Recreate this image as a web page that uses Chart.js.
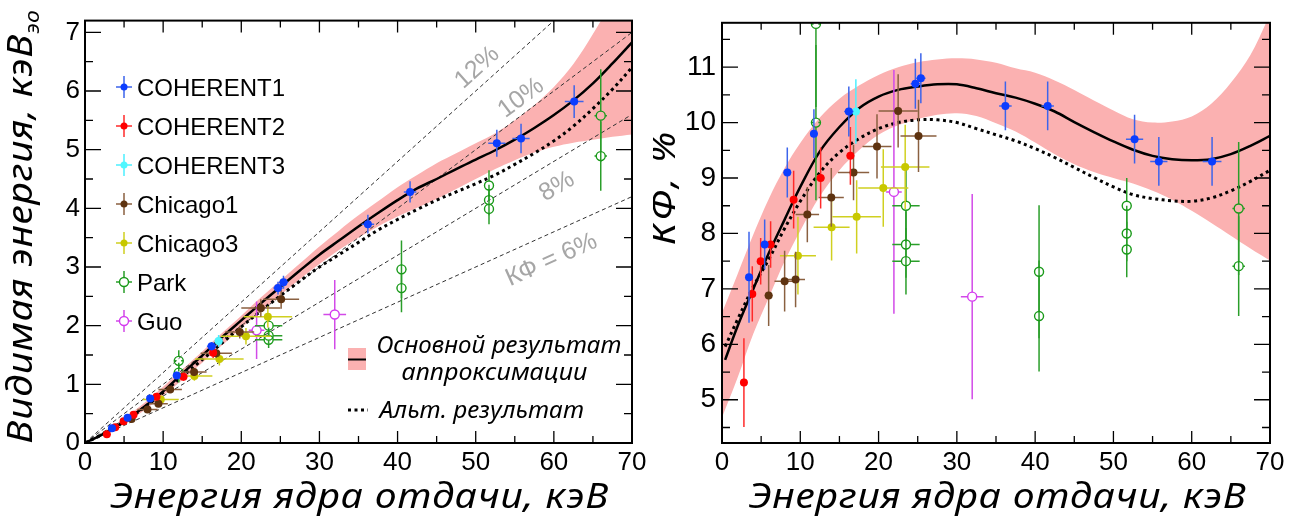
<!DOCTYPE html>
<html>
<head>
<meta charset="utf-8">
<script src="https://cdn.jsdelivr.net/npm/chart.js@4.4.0/dist/chart.umd.min.js"></script>
<style>
  html, body { margin: 0; padding: 0; background: #fff; }
  #wrap { position: relative; width: 1306px; height: 524px; }
  canvas { position: absolute; top: 0; }
  #cLeft { left: 0; }
  #cRight { left: 653px; }
</style>
</head>
<body>
<div id="wrap">
  <canvas id="cLeft" width="653" height="524"></canvas>
  <canvas id="cRight" width="653" height="524"></canvas>
</div>
<script>
const SANS = '"Liberation Sans", Arial, Helvetica, sans-serif';
const ITAL = '"Noto Sans", Roboto, "Open Sans", sans-serif';
const BAND = '#fbb1b1';

// ---- measurements (recoil energy in keV) ----
const sourceNames = ['COHERENT1', 'COHERENT2', 'COHERENT3', 'Chicago1', 'Chicago3', 'Park', 'Guo'];
const sourceColors = ['#0b3dff', '#ff0000', '#4ff7ff', '#5e3310', '#c8c800', '#1a9a1a', '#d43cf0'];
const barColors = ['#3c64eb', '#ff2a2a', '#4cf0ff', '#8a6040', '#d0d020', '#2a9e2a', '#d24ae8'];
const sourceOpen = [false, false, false, false, false, true, true];

const c1E     = [3.45, 5.45, 8.34, 11.74, 16.2, 24.7, 25.4, 36.2, 41.6, 52.7, 55.8, 62.6];
const c1EErr  = [0.3, 0.4, 0.5, 0.5, 0.6, 0.6, 0.6, 0.8, 0.8, 1.1, 1.1, 1.2];
const c1QF    = [7.21, 7.80, 9.10, 9.80, 10.20, 10.70, 10.80, 10.30, 10.30, 9.70, 9.30, 9.30];
const c1QFErr = [0.82, 0.45, 0.45, 0.44, 0.45, 0.45, 0.45, 0.44, 0.44, 0.44, 0.44, 0.44];
const c1Vis   = [0.25, 0.43, 0.76, 1.15, 1.65, 2.64, 2.74, 3.73, 4.28, 5.11, 5.19, 5.82];
const c1VisErr= [0.03, 0.02, 0.04, 0.05, 0.07, 0.11, 0.11, 0.16, 0.18, 0.23, 0.25, 0.28];

const c2E     = [2.8, 3.87, 4.94, 6.21, 9.15, 12.6, 16.4];
const c2EErr  = [0.2, 0.3, 0.3, 0.3, 0.4, 0.5, 0.5];
const c2QF    = [5.31, 6.91, 7.50, 7.80, 8.61, 9.00, 9.40];
const c2QFErr = [0.8, 0.5, 0.42, 0.42, 0.52, 0.55, 0.52];
const c2Vis   = [0.15, 0.27, 0.37, 0.48, 0.79, 1.13, 1.54];
const c2VisErr= [0.02, 0.02, 0.02, 0.03, 0.05, 0.07, 0.09];

const c3E     = [17.1];
const c3EErr  = [0.5];
const c3QF    = [10.2];
const c3QFErr = [0.58];
const c3Vis   = [1.74];
const c3VisErr= [0.10];

const ch1E     = [5.96, 8.0, 9.4, 10.9, 13.96, 16.8, 19.8, 22.5, 25.1];
const ch1EErr  = [0.5, 1.3, 1.2, 1.5, 1.6, 2.0, 1.85, 2.5, 2.3];
const ch1QF    = [6.88, 7.14, 7.17, 8.34, 8.65, 9.10, 9.57, 10.21, 9.76];
const ch1QFErr = [0.55, 0.55, 0.5, 0.5, 0.53, 0.5, 0.58, 0.66, 0.65];
const ch1Vis   = [0.41, 0.57, 0.67, 0.91, 1.21, 1.53, 1.89, 2.30, 2.45];
const ch1VisErr= [0.03, 0.04, 0.05, 0.05, 0.07, 0.08, 0.11, 0.15, 0.16];

const ch3E     = [9.7, 14.0, 17.2, 20.6, 23.4];
const ch3EErr  = [2.3, 2.3, 3.1, 3.2, 3.1];
const ch3QF    = [7.60, 8.11, 8.30, 8.82, 9.20];
const ch3QFErr = [0.7, 0.6, 0.66, 0.7, 0.76];
const ch3Vis   = [0.74, 1.14, 1.43, 1.82, 2.15];
const ch3VisErr= [0.07, 0.08, 0.11, 0.14, 0.18];

const parkE     = [12.0, 12.0, 23.5, 23.5, 23.5, 40.5, 40.5, 51.7, 51.7, 51.7, 66.0, 66.0];
const parkEErr  = [0.3, 0.3, 1.75, 1.75, 1.75, 0.6, 0.6, 0.6, 0.6, 0.6, 0.8, 0.8];
const parkQF    = [11.78, 10.0, 8.50, 7.80, 7.50, 7.31, 6.51, 8.50, 8.00, 7.71, 8.45, 7.41];
const parkQFErr = [1.5, 1.4, 0.65, 0.6, 0.6, 1.2, 1.0, 0.5, 0.5, 0.5, 1.2, 0.9];
const parkVis   = [1.40, 1.20, 2.00, 1.83, 1.76, 2.96, 2.64, 4.39, 4.14, 3.99, 5.58, 4.89];
const parkVisErr= [0.18, 0.17, 0.15, 0.14, 0.14, 0.49, 0.41, 0.26, 0.26, 0.26, 0.79, 0.59];

const guoE     = [21.96, 31.96];
const guoEErr  = [1.0, 1.45];
const guoQF    = [8.75, 6.86];
const guoQFErr = [2.2, 1.85];
const guoVis   = [1.92, 2.19];
const guoVisErr= [0.49, 0.59];

// ---- fit curves ----
const fitE  = [0.4, 2, 4, 6, 8, 10, 12.5, 15, 17.5, 20, 22.5, 25, 27.5, 30, 32.5, 35, 37.5, 40, 42.5, 45, 47.5, 50, 52.5, 55, 57.5, 60, 62.5, 65, 67.5, 70];
const bandE = [0, 2, 4, 6, 8, 10, 12.5, 15, 17.5, 20, 22.5, 25, 27.5, 30, 32.5, 35, 37.5, 40, 42.5, 45, 47.5, 50, 52.5, 55, 57.5, 60, 62.5, 65, 67.5, 70];

const qfFit = [5.72, 6.33, 7.00, 7.65, 8.25, 8.84, 9.48, 9.92, 10.26, 10.47, 10.59, 10.65, 10.69, 10.69, 10.62, 10.53, 10.45, 10.34, 10.20, 10.01, 9.83, 9.66, 9.51, 9.40, 9.34, 9.32, 9.34, 9.43, 9.58, 9.76];
const qfAlt = [5.96, 6.45, 7.04, 7.54, 8.09, 8.58, 9.10, 9.46, 9.71, 9.89, 10.00, 10.05, 10.05, 10.00, 9.89, 9.78, 9.67, 9.53, 9.37, 9.19, 9.01, 8.84, 8.70, 8.63, 8.59, 8.58, 8.64, 8.77, 8.94, 9.14];
const qfUp  = [6.57, 7.27, 7.98, 8.63, 9.18, 9.63, 10.09, 10.43, 10.67, 10.86, 11.00, 11.09, 11.14, 11.16, 11.14, 11.08, 10.98, 10.90, 10.76, 10.59, 10.40, 10.22, 10.06, 10.00, 10.02, 10.11, 10.34, 10.72, 11.22, 11.95];
const qfLow = [4.68, 5.40, 6.19, 6.85, 7.50, 8.05, 8.67, 9.14, 9.50, 9.78, 9.95, 10.06, 10.14, 10.17, 10.12, 9.99, 9.84, 9.64, 9.43, 9.25, 9.11, 9.00, 8.90, 8.77, 8.61, 8.41, 8.19, 7.96, 7.73, 7.51];

const visFit = [0, 0.13, 0.28, 0.46, 0.66, 0.88, 1.19, 1.49, 1.80, 2.09, 2.38, 2.66, 2.94, 3.21, 3.45, 3.69, 3.92, 4.14, 4.34, 4.50, 4.67, 4.83, 4.99, 5.17, 5.37, 5.59, 5.84, 6.13, 6.47, 6.83];
const visAlt = [0, 0.13, 0.28, 0.45, 0.65, 0.86, 1.14, 1.42, 1.70, 1.98, 2.25, 2.51, 2.76, 3.00, 3.21, 3.42, 3.63, 3.81, 3.98, 4.14, 4.28, 4.42, 4.57, 4.75, 4.94, 5.15, 5.40, 5.70, 6.03, 6.40];
const visUp  = [0, 0.15, 0.32, 0.52, 0.73, 0.96, 1.26, 1.56, 1.87, 2.17, 2.48, 2.77, 3.06, 3.35, 3.62, 3.88, 4.12, 4.36, 4.57, 4.77, 4.94, 5.11, 5.28, 5.50, 5.76, 6.07, 6.46, 6.97, 7.57, 8.37];
const visLow = [0, 0.11, 0.25, 0.41, 0.60, 0.81, 1.08, 1.37, 1.66, 1.96, 2.24, 2.52, 2.79, 3.05, 3.29, 3.50, 3.69, 3.86, 4.01, 4.16, 4.33, 4.50, 4.67, 4.82, 4.95, 5.05, 5.12, 5.17, 5.22, 5.26];

// constant-QF guide lines (visible energy at 0 and 70 keV)
const guideNames = ['КФ = 6%', '8%', '10%', '12%'];
const guideEnd   = [4.2, 5.6, 7.0, 8.4];
const guideLabelE = [59.7, 60.4, 55.8, 50.2];
const guideLabelV = [3.12, 4.37, 5.88, 6.40];

// ---- axes ----
const xTicks      = [0, 10, 20, 30, 40, 50, 60, 70];
const xMarks      = [0, 5, 10, 15, 20, 25, 30, 35, 40, 45, 50, 55, 60, 65, 70];
const leftYTicks  = [0, 1, 2, 3, 4, 5, 6, 7];
const leftYMarks  = [0, 0.5, 1, 1.5, 2, 2.5, 3, 3.5, 4, 4.5, 5, 5.5, 6, 6.5, 7];
const rightYTicks = [5, 6, 7, 8, 9, 10, 11];
const rightYMarks = [4.5, 5, 5.5, 6, 6.5, 7, 7.5, 8, 8.5, 9, 9.5, 10, 10.5, 11, 11.5];

function pts(xs, ys) {
    return xs.map((x, i) => ({ x: x, y: ys[i] }));
}

function series(i, xs, ys, xErr, yErr) {
    const open = sourceOpen[i];
    return {
        label: sourceNames[i],
        data: pts(xs, ys),
        xErr: xErr, yErr: yErr, open: open, barColor: barColors[i],
        showLine: false, clip: 0, order: 1,
        pointRadius: open ? 4.5 : 4, pointHoverRadius: open ? 4.5 : 4,
        pointBackgroundColor: open ? 'rgba(0,0,0,0)' : sourceColors[i],
        pointBorderColor: sourceColors[i],
        pointBorderWidth: open ? 1.4 : 0
    };
}

function curve(xs, ys, opt) {
    return Object.assign({
        data: pts(xs, ys), showLine: true, fill: false, clip: 0,
        pointRadius: 0, pointHoverRadius: 0, tension: 0.35,
        borderWidth: 0, borderColor: 'rgba(0,0,0,0)'
    }, opt);
}

// error bars, drawn just before each measured series
const errorBars = {
    id: 'errorBars',
    beforeDatasetDraw(chart, args) {
        const ds = chart.data.datasets[args.index];
        if (!ds.xErr) return;
        const { ctx, chartArea: a, scales } = chart;
        const gap = ds.open ? ds.pointRadius : 0;
        ctx.save();
        ctx.beginPath();
        ctx.rect(a.left, a.top, a.right - a.left, a.bottom - a.top);
        ctx.clip();
        ctx.strokeStyle = ds.barColor;
        ctx.lineWidth = 1.5;
        args.meta.data.forEach((p, i) => {
            const d = ds.data[i];
            const xl = scales.x.getPixelForValue(d.x - ds.xErr[i]);
            const xr = scales.x.getPixelForValue(d.x + ds.xErr[i]);
            const yl = scales.y.getPixelForValue(d.y - ds.yErr[i]);
            const yh = scales.y.getPixelForValue(d.y + ds.yErr[i]);
            ctx.beginPath();
            ctx.moveTo(xl, p.y); ctx.lineTo(p.x - gap, p.y);
            ctx.moveTo(p.x + gap, p.y); ctx.lineTo(xr, p.y);
            ctx.moveTo(p.x, yl); ctx.lineTo(p.x, p.y + gap);
            ctx.moveTo(p.x, p.y - gap); ctx.lineTo(p.x, yh);
            ctx.stroke();
        });
        ctx.restore();
    }
};

function drawFrame(chart, yMarks) {
    const { ctx, chartArea: a, scales } = chart;
    ctx.save();
    ctx.strokeStyle = '#000';
    ctx.lineWidth = 1.3;
    ctx.beginPath();
    xMarks.forEach(v => {
        const px = scales.x.getPixelForValue(v);
        const len = v % 10 ? 7 : 12;
        ctx.moveTo(px, a.bottom); ctx.lineTo(px, a.bottom - len);
        ctx.moveTo(px, a.top); ctx.lineTo(px, a.top + len);
    });
    yMarks.forEach(v => {
        const py = scales.y.getPixelForValue(v);
        const len = v % 1 ? 8 : 16;
        ctx.moveTo(a.left, py); ctx.lineTo(a.left + len, py);
        ctx.moveTo(a.right, py); ctx.lineTo(a.right - len, py);
    });
    ctx.stroke();
    ctx.lineWidth = 2;
    ctx.strokeRect(a.left, a.top, a.right - a.left, a.bottom - a.top);
    ctx.restore();
}

// italic text spread to a measured length (stretch, then a little letter spacing), optional subscript
function fitText(ctx, text, sub, cx, cy, len, size, rot) {
    ctx.save();
    ctx.translate(cx, cy);
    ctx.rotate(rot);
    const mainFont = 'italic ' + size + 'px ' + ITAL;
    const subFont = 'italic ' + Math.round(size * 0.6) + 'px ' + ITAL;
    const chars = Array.from(text);
    ctx.font = mainFont;
    const w = ctx.measureText(text).width;
    let ws = 0;
    if (sub) { ctx.font = subFont; ws = ctx.measureText(sub).width; }
    const k = Math.min(1.15, Math.max(0.85, len / (w + ws)));
    const sp = (len / k - w - ws) / (chars.length - (sub ? 0 : 1));
    ctx.scale(k, 1);
    ctx.fillStyle = '#000';
    ctx.textAlign = 'left';
    ctx.textBaseline = 'alphabetic';
    let x = -len / k / 2;
    ctx.font = mainFont;
    chars.forEach(c => {
        ctx.fillText(c, x, 0);
        x += ctx.measureText(c).width + sp;
    });
    if (sub) { ctx.font = subFont; ctx.fillText(sub, x, size * 0.22); }
    ctx.restore();
}

function drawLegend(ctx) {
    sourceNames.forEach((name, i) => {
        const cx = 124, cy = 87 + i * 39;
        const open = sourceOpen[i];
        const gap = open ? 4.5 : 0;
        ctx.strokeStyle = barColors[i];
        ctx.lineWidth = 1.5;
        ctx.beginPath();
        ctx.moveTo(cx - 8, cy); ctx.lineTo(cx - gap, cy);
        ctx.moveTo(cx + gap, cy); ctx.lineTo(cx + 8, cy);
        ctx.moveTo(cx, cy - 11); ctx.lineTo(cx, cy - gap);
        ctx.moveTo(cx, cy + gap); ctx.lineTo(cx, cy + 11);
        ctx.stroke();
        ctx.beginPath();
        ctx.arc(cx, cy, open ? 4.5 : 3.5, 0, Math.PI * 2);
        if (open) {
            ctx.strokeStyle = sourceColors[i];
            ctx.lineWidth = 1.4;
            ctx.stroke();
        } else {
            ctx.fillStyle = sourceColors[i];
            ctx.fill();
        }
        ctx.fillStyle = '#000';
        ctx.font = '24px ' + SANS;
        ctx.textAlign = 'left';
        ctx.textBaseline = 'alphabetic';
        ctx.fillText(name, 137, cy + 8.5);
    });
}

const leftDecor = {
    id: 'leftDecor',
    afterDraw(chart) {
        const { ctx, scales } = chart;
        const x = scales.x, y = scales.y;
        ctx.save();
        // guide labels along the dashed lines
        ctx.fillStyle = '#a6a6a6';
        ctx.font = '25px ' + SANS;
        ctx.textAlign = 'center';
        ctx.textBaseline = 'middle';
        guideNames.forEach((t, i) => {
            const ang = Math.atan2(y.getPixelForValue(guideEnd[i]) - y.getPixelForValue(0),
                                   x.getPixelForValue(70) - x.getPixelForValue(0));
            ctx.save();
            ctx.translate(x.getPixelForValue(guideLabelE[i]), y.getPixelForValue(guideLabelV[i]));
            ctx.rotate(ang);
            ctx.fillText(t, 0, 0);
            ctx.restore();
        });
        drawLegend(ctx);
        // fit legend
        ctx.fillStyle = BAND;
        ctx.fillRect(348, 348, 18, 22);
        ctx.strokeStyle = '#000';
        ctx.lineWidth = 2;
        ctx.beginPath();
        ctx.moveTo(348, 359.5); ctx.lineTo(366, 359.5);
        ctx.stroke();
        ctx.lineWidth = 3;
        ctx.setLineDash([3, 3.5]);
        ctx.beginPath();
        ctx.moveTo(348, 410); ctx.lineTo(368, 410);
        ctx.stroke();
        ctx.setLineDash([]);
        ctx.restore();
        fitText(ctx, 'Основной результат', null, 498, 353, 243, 23, 0);
        fitText(ctx, 'аппроксимации', null, 494, 380, 185, 23, 0);
        fitText(ctx, 'Альт. результат', null, 481, 418, 203, 23, 0);

        drawFrame(chart, leftYMarks);
        fitText(ctx, 'Энергия ядра отдачи, кэВ', null, 359, 508, 498, 34, 0);
        fitText(ctx, 'Видимая энергия, кэВ', 'эо', 32, 227, 433, 34, -Math.PI / 2);
    }
};

const rightDecor = {
    id: 'rightDecor',
    afterDraw(chart) {
        drawFrame(chart, rightYMarks);
        fitText(chart.ctx, 'Энергия ядра отдачи, кэВ', null, 344, 508, 497, 34, 0);
        fitText(chart.ctx, 'КФ, %', null, 22, 190, 110, 34, -Math.PI / 2);
    }
};

function axes(yMin, yMax, yTicks, yWidth, yFont, yPad) {
    return {
        x: {
            type: 'linear', min: 0, max: 70,
            afterFit: s => { s.height = 81; },
            afterBuildTicks: s => { s.ticks = xTicks.map(v => ({ value: v })); },
            ticks: { font: { family: SANS, size: 26 }, color: '#000', padding: 4, autoSkip: false, maxRotation: 0 },
            grid: { display: false, drawTicks: false },
            border: { display: false }
        },
        y: {
            type: 'linear', min: yMin, max: yMax,
            afterFit: s => { s.width = yWidth; },
            afterBuildTicks: s => { s.ticks = yTicks.map(v => ({ value: v })); },
            ticks: { font: { family: SANS, size: yFont }, color: '#000', padding: yPad, autoSkip: false },
            grid: { display: false, drawTicks: false },
            border: { display: false }
        }
    };
}

const common = {
    responsive: false,
    animation: false,
    devicePixelRatio: 1,
    events: [],
    plugins: { legend: { display: false }, tooltip: { enabled: false } }
};

const leftSets = [
    series(0, c1E, c1Vis, c1EErr, c1VisErr),
    series(1, c2E, c2Vis, c2EErr, c2VisErr),
    series(2, c3E, c3Vis, c3EErr, c3VisErr),
    series(3, ch1E, ch1Vis, ch1EErr, ch1VisErr),
    series(4, ch3E, ch3Vis, ch3EErr, ch3VisErr),
    series(5, parkE, parkVis, parkEErr, parkVisErr),
    series(6, guoE, guoVis, guoEErr, guoVisErr),
    curve(bandE, visFit, { borderWidth: 2.5, borderColor: '#000', order: 5 }),
    curve(bandE, visAlt, { borderWidth: 3, borderColor: '#000', borderDash: [3, 3.5], order: 6 })
].concat(guideEnd.map(v => curve([0, 70], [0, v], {
    borderWidth: 1, borderColor: '#333', borderDash: [4, 3], tension: 0, order: 8
}))).concat([
    curve(bandE, visUp, { fill: '+1', backgroundColor: BAND, order: 10 }),
    curve(bandE, visLow, { order: 11 })
]);

const rightSets = [
    series(0, c1E, c1QF, c1EErr, c1QFErr),
    series(1, c2E, c2QF, c2EErr, c2QFErr),
    series(2, c3E, c3QF, c3EErr, c3QFErr),
    series(3, ch1E, ch1QF, ch1EErr, ch1QFErr),
    series(4, ch3E, ch3QF, ch3EErr, ch3QFErr),
    series(5, parkE, parkQF, parkEErr, parkQFErr),
    series(6, guoE, guoQF, guoEErr, guoQFErr),
    curve(fitE, qfFit, { borderWidth: 2.5, borderColor: '#000', order: 5 }),
    curve(fitE, qfAlt, { borderWidth: 3, borderColor: '#000', borderDash: [3, 3.5], order: 6 }),
    curve(bandE, qfUp, { fill: '+1', backgroundColor: BAND, order: 10 }),
    curve(bandE, qfLow, { order: 11 })
];

new Chart(document.getElementById('cLeft'), {
    type: 'scatter',
    data: { datasets: leftSets },
    options: Object.assign({}, common, {
        layout: { padding: { top: 7, right: 21, left: 0, bottom: 0 } },
        scales: axes(0, 7.2, leftYTicks, 85, 26, 5)
    }),
    plugins: [errorBars, leftDecor]
});

new Chart(document.getElementById('cRight'), {
    type: 'scatter',
    data: { datasets: rightSets },
    options: Object.assign({}, common, {
        layout: { padding: { top: 6, right: 36, left: 0, bottom: 0 } },
        scales: axes(4.22, 11.8, rightYTicks, 69, 28, 6)
    }),
    plugins: [errorBars, rightDecor]
});
</script>
</body>
</html>
